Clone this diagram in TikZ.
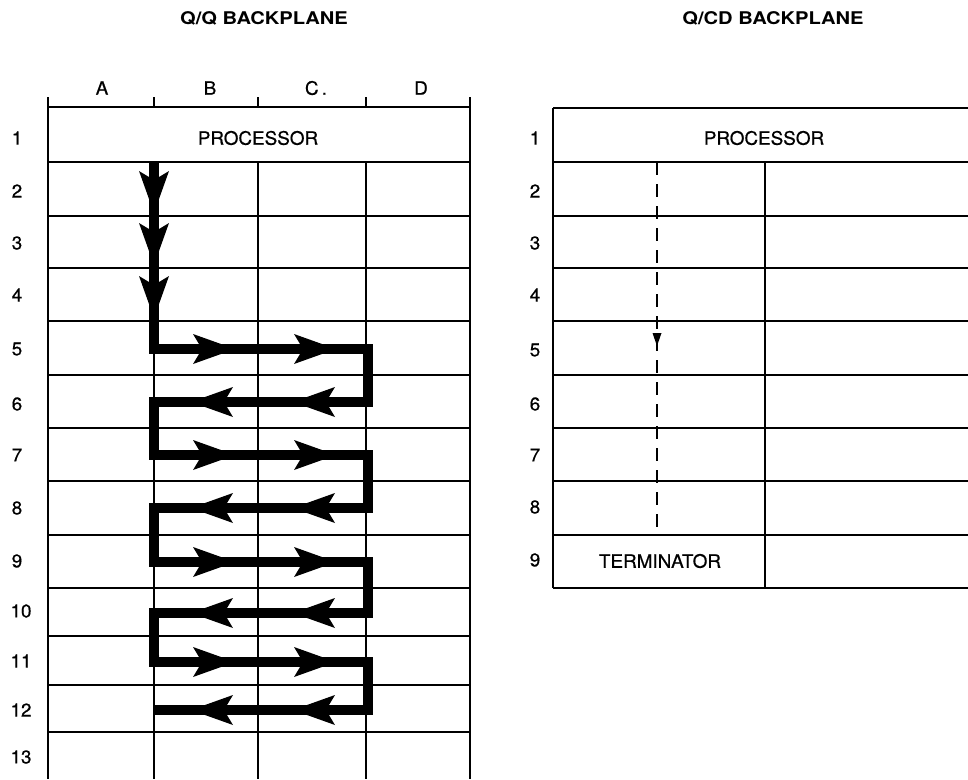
\documentclass[tikz,border=0pt]{standalone}
\usepackage{fontspec}
\setmainfont{TeX Gyre Heros}[FakeStretch=1.02, FakeBold=0.6]
\newfontfamily\titlefont{TeX Gyre Heros}[FakeStretch=1.15]
\begin{document}
\begin{tikzpicture}[x=1pt,y=-1pt,
  hline/.style={line width=2.4pt},
  vthin/.style={line width=1.3pt},
  border/.style={line width=2pt},
  lbl/.style={font=\fontsize{18.5}{18.5}\selectfont, inner sep=0pt},
  ttl/.style={font=\titlefont\bfseries\fontsize{17.5}{17.5}\selectfont, inner sep=0pt},
  flow/.style={line width=9.5pt, line join=miter, line cap=butt},
  barb/.pic={\fill (0,0) -- (-42,-15) -- (-33,0) -- (-42,15) -- cycle;},
  smalltip/.pic={\fill (0,0) -- (-13,-4.5) -- (-13,4.5) -- cycle;}
]
\useasboundingbox (0,0) rectangle (968,779);

% ---------- titles ----------
\node[ttl] (t1) at (264,18) {Q/Q BACKPLANE};
\node[ttl] (t2) at (773,18) {Q/CD BACKPLANE};

% ---------- left backplane ----------
\foreach \y in {107,162,216,268,321,375,428,481,535,588,636,685,732}
  \draw[hline] (48,\y) -- (470,\y);
\draw[border] (48,97) -- (48,779);
\draw[border] (470,97) -- (470,779);
\foreach \x in {154,258,366} {
  \draw[vthin] (\x,97) -- (\x,107);
  \draw[vthin] (\x,162) -- (\x,779);
}
\node[lbl] (cA) at (102,88) {A};
\node[lbl] (cB) at (210,88) {B};
\node[lbl] (cC) at (316,88) {C\,.};
\node[lbl] (cD) at (421,88) {D};
\node[lbl] (lproc) at (258,138) {PROCESSOR};

\foreach \n/\yy/\xx in {1/138/17,2/191/17,3/243/17,4/295/17,5/349/17,6/404/17,7/455/17,8/508/17,9/561/17,10/611/21,11/661/21,12/710/21,13/757/21}
  \node[lbl] (l\n) at (\xx,\yy) {\n};

% flow path
\coordinate (p0) at (154,162);
\coordinate (p1) at (154,349);
\coordinate (p2) at (368,349);
\coordinate (p3) at (368,402);
\coordinate (p4) at (154,402);
\coordinate (p5) at (154,455);
\coordinate (p6) at (368,455);
\coordinate (p7) at (368,508);
\coordinate (p8) at (154,508);
\coordinate (p9) at (154,562);
\coordinate (p10) at (368,562);
\coordinate (p11) at (368,613);
\coordinate (p12) at (154,613);
\coordinate (p13) at (154,662);
\coordinate (p14) at (368,662);
\coordinate (p15) at (368,710);
\coordinate (p16) at (154,710);
\draw[flow] (p0) -- (p1) -- (p2) -- (p3) -- (p4) -- (p5) -- (p6) -- (p7) -- (p8)
  -- (p9) -- (p10) -- (p11) -- (p12) -- (p13) -- (p14) -- (p15) -- (p16);

% arrowheads down
\foreach \y in {213,265,318}
  \pic[rotate=-90] at (154,\y) {barb};
% arrowheads right
\foreach \y in {349,455,562,662} {
  \pic at (235,\y) {barb};
  \pic at (336,\y) {barb};
}
% arrowheads left
\foreach \y in {402,508,613,710} {
  \pic[rotate=180] at (191,\y) {barb};
  \pic[rotate=180] at (293,\y) {barb};
}

% ---------- right backplane ----------
\foreach \y in {108,162,216,268,321,375,428,481,535,588}
  \draw[hline] (553,\y) -- (968,\y);
\draw[border] (553,108) -- (553,588);
\draw[vthin] (765,162) -- (765,588);
\node[lbl] (rproc) at (764,138) {PROCESSOR};
\node[lbl] (term) at (660,561) {TERMINATOR};
\foreach \n/\yy in {1/138,2/191,3/243,4/295,5/350,6/404,7/455,8/507,9/560}
  \node[lbl] (r\n) at (535,\yy) {\n};
\coordinate (d0) at (657,162);
\coordinate (d1) at (657,535);
\draw[line width=1.6pt, dash pattern=on 13pt off 9pt] (d0) -- (d1);
\pic[rotate=-90] at (657,346) {smalltip};

\end{tikzpicture}
\end{document}
